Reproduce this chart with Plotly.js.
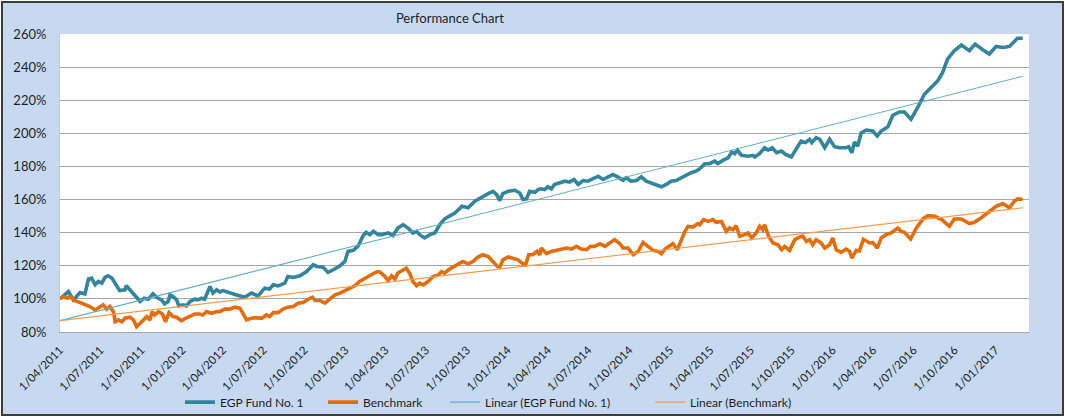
<!DOCTYPE html>
<html>
<head>
<meta charset="utf-8">
<script src="https://cdn.plot.ly/plotly-3.0.1.min.js"></script>
<style>
  html, body { margin: 0; padding: 0; background: #ffffff; }
  #frame { position: absolute; left: 1px; top: 1px; width: 1059px; height: 411px; border: 2px solid #3c3c3c; background: #C6D9F1; }
  #chart { width: 1059px; height: 411px; }
</style>
</head>
<body>
<div id="frame"><div id="chart"></div></div>
<script>
// ---- Data ----
const seriesNames = ['EGP Fund No. 1', 'Benchmark'];
const trendNames = ['Linear (EGP Fund No. 1)', 'Linear (Benchmark)'];
const yTickSuffix = '%';
const xTickFormat = '%-d/%m/%Y';

const fundDates = [
'2011-04-01','2011-04-20','2011-05-01','2011-05-16','2011-05-27','2011-06-04','2011-06-11','2011-06-19','2011-06-26','2011-07-04',
'2011-07-11','2011-07-18','2011-07-27','2011-08-06','2011-08-13','2011-08-25','2011-08-28','2011-09-05','2011-09-16','2011-09-28',
'2011-10-07','2011-10-16','2011-10-27','2011-11-04','2011-11-15','2011-11-22','2011-11-30','2011-12-04','2011-12-11','2011-12-19',
'2011-12-24','2012-01-03','2012-01-10','2012-01-18','2012-01-29','2012-02-05','2012-02-13','2012-02-20','2012-03-03','2012-03-10',
'2012-03-18','2012-03-25','2012-04-01','2012-04-16','2012-05-02','2012-05-20','2012-06-04','2012-06-19','2012-07-04','2012-07-15',
'2012-07-23','2012-08-03','2012-08-18','2012-08-25','2012-09-06','2012-09-21','2012-10-06','2012-10-21','2012-10-29','2012-11-12',
'2012-11-23','2012-12-05','2012-12-20','2012-12-31','2013-01-07','2013-01-19','2013-01-30','2013-02-10','2013-02-17','2013-02-25',
'2013-03-05','2013-03-16','2013-03-23','2013-04-07','2013-04-18','2013-04-29','2013-05-11','2013-05-22','2013-06-02','2013-06-10',
'2013-06-17','2013-06-28','2013-07-10','2013-07-21','2013-08-01','2013-08-12','2013-08-23','2013-09-04','2013-09-20','2013-10-04',
'2013-10-19','2013-11-03','2013-11-18','2013-11-29','2013-12-07','2013-12-14','2013-12-21','2014-01-02','2014-01-17','2014-01-28',
'2014-02-04','2014-02-12','2014-02-19','2014-03-03','2014-03-10','2014-03-16','2014-03-25','2014-04-01','2014-04-09','2014-04-16',
'2014-04-27','2014-05-09','2014-05-20','2014-05-30','2014-06-08','2014-06-19','2014-06-30','2014-07-11','2014-07-23','2014-08-03',
'2014-08-14','2014-08-25','2014-09-05','2014-09-17','2014-09-24','2014-10-05','2014-10-17','2014-10-28','2014-11-08','2014-11-19',
'2014-12-01','2014-12-12','2014-12-23','2015-01-03','2015-01-14','2015-01-26','2015-02-06','2015-02-17','2015-02-28','2015-03-08',
'2015-03-19','2015-03-31','2015-04-11','2015-04-18','2015-04-30','2015-05-11','2015-05-19','2015-05-26','2015-06-01','2015-06-10',
'2015-06-25','2015-07-06','2015-07-10','2015-07-21','2015-08-01','2015-08-09','2015-08-18','2015-08-28','2015-09-08','2015-09-17',
'2015-09-30','2015-10-11','2015-10-22','2015-11-01','2015-11-10','2015-11-15','2015-11-25','2015-12-03','2015-12-14','2015-12-25',
'2016-01-05','2016-01-16','2016-01-31','2016-02-06','2016-02-13','2016-02-19','2016-02-26','2016-03-05','2016-03-16','2016-03-31',
'2016-04-10','2016-04-19','2016-05-04','2016-05-15','2016-05-30','2016-06-10','2016-06-25','2016-07-10','2016-07-25','2016-08-09',
'2016-08-24','2016-09-04','2016-09-15','2016-09-30','2016-10-16','2016-11-03','2016-11-16','2016-12-03','2016-12-18','2017-01-02',
'2017-01-17','2017-02-01','2017-02-08','2017-02-19','2017-03-03'
];
const fundValues = [
100.0,104.4,99.4,103.8,103.0,112.0,112.5,108.5,110.5,109.5,
113.0,114.0,112.5,107.5,105.0,105.5,108.0,105.5,102.4,98.4,
100.4,99.8,103.0,101.0,99.4,97.0,98.4,102.4,101.4,99.4,
95.8,96.4,95.8,98.4,99.8,99.4,100.4,99.8,107.5,103.5,
105.5,104.2,105.0,103.5,102.4,101.0,103.5,101.8,106.5,105.9,
108.5,107.9,109.5,113.5,112.9,114.0,116.5,120.6,119.6,119.2,
116.0,117.6,120.0,122.6,128.7,129.3,132.0,138.2,140.2,138.8,
140.8,138.8,138.8,139.8,138.2,142.8,144.8,142.8,139.8,140.8,
138.8,136.8,138.8,139.8,144.8,148.3,149.9,151.9,155.9,155.0,
159.0,161.6,163.6,165.0,163.0,159.4,163.6,165.0,165.6,164.0,
160.0,160.4,165.0,164.4,166.0,166.5,166.0,167.7,166.5,169.1,
170.1,171.1,170.5,172.1,169.1,171.5,171.1,172.5,174.1,172.1,
173.7,175.1,173.7,171.7,173.2,171.1,171.5,173.7,171.1,170.1,
169.1,167.7,169.1,171.1,171.5,173.2,175.1,176.2,177.2,178.5,
181.5,181.8,183.2,181.8,183.8,185.2,188.7,187.7,189.9,186.7,
186.2,186.7,185.7,187.9,191.3,189.9,191.3,188.3,189.3,187.3,
185.7,190.3,195.3,194.4,196.4,194.4,197.4,196.4,191.3,196.4,
191.9,191.3,191.3,191.9,188.3,194.8,192.2,200.2,202.0,201.4,
198.4,201.4,204.0,210.9,212.9,212.9,208.5,215.6,223.6,227.7,
231.7,236.8,244.8,249.9,253.3,249.9,253.9,250.5,247.9,252.5,
251.9,252.5,254.5,257.4,257.4
];

const benchDates = [
'2011-04-01','2011-04-08','2011-04-18','2011-04-23','2011-05-04','2011-05-16','2011-05-27','2011-06-07','2011-06-19','2011-06-30',
'2011-07-07','2011-07-15','2011-07-22','2011-07-30','2011-08-03','2011-08-10','2011-08-18','2011-08-25','2011-09-05','2011-09-13',
'2011-09-20','2011-09-28','2011-10-05','2011-10-13','2011-10-20','2011-10-25','2011-10-31','2011-11-08','2011-11-17','2011-11-24',
'2011-12-02','2011-12-11','2011-12-19','2011-12-30','2012-01-08','2012-01-18','2012-01-29','2012-02-09','2012-02-16','2012-02-24',
'2012-03-06','2012-03-18','2012-03-25','2012-04-05','2012-04-16','2012-04-28','2012-05-09','2012-05-16','2012-05-24','2012-06-04',
'2012-06-15','2012-06-27','2012-07-08','2012-07-15','2012-07-23','2012-08-03','2012-08-14','2012-08-25','2012-09-06','2012-09-17',
'2012-09-28','2012-10-10','2012-10-19','2012-10-25','2012-11-05','2012-11-16','2012-11-27','2012-12-09','2012-12-20','2012-12-31',
'2013-01-11','2013-01-22','2013-02-02','2013-02-14','2013-02-25','2013-03-07','2013-03-15','2013-03-20','2013-03-31','2013-04-07',
'2013-04-15','2013-04-22','2013-04-29','2013-05-11','2013-05-18','2013-05-26','2013-06-02','2013-06-10','2013-06-17','2013-06-25',
'2013-07-06','2013-07-17','2013-07-29','2013-08-05','2013-08-12','2013-08-23','2013-09-04','2013-09-15','2013-09-22','2013-10-04',
'2013-10-15','2013-10-26','2013-11-06','2013-11-18','2013-11-29','2013-12-09','2013-12-14','2013-12-21','2014-01-02','2014-01-13',
'2014-01-24','2014-02-04','2014-02-10','2014-02-17','2014-02-26','2014-03-08','2014-03-14','2014-03-17','2014-03-29','2014-04-09',
'2014-04-20','2014-05-01','2014-05-13','2014-05-24','2014-06-04','2014-06-15','2014-06-27','2014-07-06','2014-07-15','2014-07-27',
'2014-08-07','2014-08-18','2014-08-29','2014-09-10','2014-09-17','2014-09-28','2014-10-10','2014-10-21','2014-11-01','2014-11-12',
'2014-11-23','2014-12-05','2014-12-12','2014-12-20','2014-12-31','2015-01-07','2015-01-17','2015-01-26','2015-02-03','2015-02-10',
'2015-02-21','2015-03-04','2015-03-08','2015-03-17','2015-03-27','2015-04-07','2015-04-14','2015-04-26','2015-05-07','2015-05-14',
'2015-05-22','2015-05-29','2015-06-06','2015-06-17','2015-06-25','2015-07-03','2015-07-13','2015-07-21','2015-07-28','2015-08-01',
'2015-08-10','2015-08-20','2015-08-31','2015-09-08','2015-09-15','2015-09-26','2015-10-08','2015-10-19','2015-10-26','2015-11-03',
'2015-11-10','2015-11-17','2015-11-25','2015-12-06','2015-12-14','2015-12-25','2016-01-01','2016-01-09','2016-01-20','2016-01-31',
'2016-02-08','2016-02-13','2016-02-23','2016-03-01','2016-03-10','2016-03-24','2016-03-31','2016-04-10','2016-04-19','2016-04-30',
'2016-05-11','2016-05-26','2016-06-03','2016-06-10','2016-06-24','2016-07-07','2016-07-22','2016-08-02','2016-08-17','2016-09-02',
'2016-09-19','2016-09-30','2016-10-16','2016-11-03','2016-11-14','2016-11-29','2016-12-18','2017-01-02','2017-01-17','2017-02-01',
'2017-02-12','2017-02-19','2017-03-03'
];
const benchValues = [
100.0,101.4,100.4,101.4,99.0,97.8,97.0,95.4,93.3,95.4,
96.4,93.8,95.4,92.3,86.2,87.3,86.2,88.3,88.9,87.3,
83.2,85.3,87.3,89.3,87.3,92.3,90.3,92.3,90.9,86.2,
91.7,89.3,88.9,86.8,88.3,89.7,90.9,90.9,90.3,92.3,
91.3,92.3,92.3,93.8,93.8,95.0,94.4,91.3,87.3,88.3,
88.7,88.3,90.3,89.3,91.7,91.7,93.8,95.0,95.4,97.4,
97.8,99.8,101.0,99.0,99.0,97.4,99.8,102.4,103.5,105.0,
105.9,107.9,110.5,112.5,113.9,115.6,116.5,116.2,113.5,111.1,
113.9,111.9,115.6,117.2,118.6,115.2,110.5,107.9,109.5,108.5,
110.5,113.5,114.5,116.5,115.6,118.0,119.6,121.6,122.6,121.2,
122.6,125.3,126.7,125.6,122.6,119.6,119.2,123.6,125.3,124.7,
123.6,121.2,120.6,126.7,126.7,128.7,126.5,130.7,127.3,128.7,
129.3,130.1,130.7,130.1,131.7,130.1,129.7,131.7,131.7,133.3,
131.7,133.8,135.8,133.3,130.7,130.7,126.7,128.7,134.1,131.7,
129.3,128.7,127.3,130.1,132.1,133.3,129.7,135.8,140.8,143.8,
143.4,145.5,144.8,147.9,146.8,147.9,146.3,146.8,140.8,142.8,
141.8,144.2,137.8,138.8,139.8,136.8,139.8,143.8,141.8,144.8,
137.8,133.8,132.7,129.7,131.7,129.3,135.8,137.4,137.8,134.7,
135.8,132.7,135.8,133.8,130.7,132.7,136.8,129.7,128.1,130.1,
128.7,124.7,129.3,129.0,136.0,133.8,134.1,130.7,136.8,138.8,
139.8,142.8,140.8,140.2,136.2,142.8,148.3,150.3,149.9,147.9,
143.8,148.3,148.3,145.5,146.3,148.9,152.9,155.9,157.6,155.0,
159.0,160.4,160.0
];

// ---- Linear trend (least squares on the data, as the spreadsheet does) ----
function linearTrend(dates, values) {
  const xs = dates.map(d => Date.parse(d));
  const n = xs.length;
  let sx = 0, sy = 0, sxx = 0, sxy = 0;
  for (let i = 0; i < n; i++) { sx += xs[i]; sy += values[i]; sxx += xs[i] * xs[i]; sxy += xs[i] * values[i]; }
  const mx = sx / n, my = sy / n;
  const b = (sxy / n - mx * my) / (sxx / n - mx * mx);
  const a = my - b * mx;
  const ends = [dates[0], dates[n - 1]];
  return { x: ends, y: ends.map(d => a + b * Date.parse(d)) };
}

const fundTrend = linearTrend(fundDates, fundValues);
const benchTrend = linearTrend(benchDates, benchValues);

const FONT = 'Lato, "Open Sans", sans-serif';
const TEXT = '#1f1f1f';

const traces = [
  { x: fundDates, y: fundValues, name: seriesNames[0], type: 'scatter', mode: 'lines', legend: 'legend',
    line: { color: '#31859C', width: 3.6 } },
  { x: benchDates, y: benchValues, name: seriesNames[1], type: 'scatter', mode: 'lines', legend: 'legend2',
    line: { color: '#E46C0A', width: 3.6 } },
  { x: fundTrend.x, y: fundTrend.y, name: trendNames[0], type: 'scatter', mode: 'lines', legend: 'legend3',
    line: { color: '#62AEC3', width: 1.1 } },
  { x: benchTrend.x, y: benchTrend.y, name: trendNames[1], type: 'scatter', mode: 'lines', legend: 'legend4',
    line: { color: '#F59A52', width: 1.1 } }
];

function legendAt(xFrac) {
  return { orientation: 'h', xref: 'container', yref: 'container', x: xFrac, xanchor: 'left',
           y: 0.029, yanchor: 'middle', bgcolor: 'rgba(0,0,0,0)',
           font: { family: FONT, size: 12, color: TEXT }, itemwidth: 30 };
}

const layout = {
  width: 1059, height: 411,
  paper_bgcolor: '#C6D9F1', plot_bgcolor: '#FFFFFF',
  margin: { l: 57, r: 33, t: 31, b: 82, autoexpand: false },
  font: { family: FONT, color: TEXT, size: 12 },
  title: { text: 'Performance Chart', font: { family: FONT, size: 13, color: TEXT },
           xref: 'container', yref: 'container', x: 0.422, xanchor: 'center', y: 0.963, yanchor: 'middle' },
  showlegend: true,
  legend: legendAt(0.1671),
  legend2: legendAt(0.3022),
  legend3: legendAt(0.4174),
  legend4: legendAt(0.6110),
  xaxis: {
    type: 'date', range: ['2011-04-01', '2017-03-17'], automargin: false,
    tick0: '2011-04-01', dtick: 'M3', tickformat: xTickFormat, tickangle: -45,
    showgrid: false, zeroline: false, showline: true, linecolor: '#A6A6A6', linewidth: 1,
    ticks: '', tickfont: { family: FONT, size: 11.5, color: TEXT }, ticklabelstandoff: 6
  },
  yaxis: {
    range: [80, 260], tick0: 80, dtick: 20, ticksuffix: yTickSuffix, automargin: false,
    showgrid: true, gridcolor: '#A6A6A6', gridwidth: 1, zeroline: false,
    showline: true, linecolor: '#C8C8C8', linewidth: 1,
    ticks: '', tickfont: { family: FONT, size: 13, color: TEXT }, ticklabelstandoff: 10
  }
};

Plotly.newPlot('chart', traces, layout, { displayModeBar: false, staticPlot: true });
</script>
</body>
</html>
